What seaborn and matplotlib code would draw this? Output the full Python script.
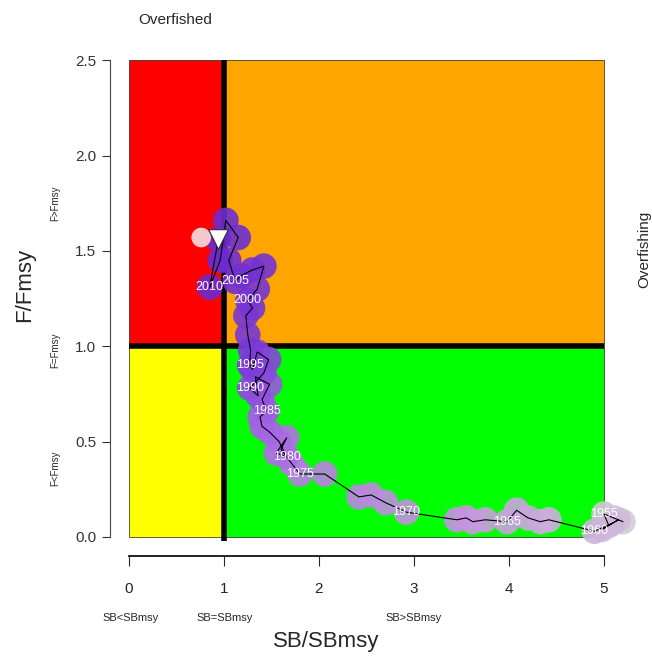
import numpy as np
import pandas as pd
import matplotlib
matplotlib.use("Agg")
import matplotlib.pyplot as plt
import seaborn as sns
from matplotlib.colors import LinearSegmentedColormap
from matplotlib.patches import Rectangle

# --- DATA ---
years = list(range(1953, 2012))
sb_ratio = [5.20, 5.10, 5.00, 5.05, 5.15, 4.98, 5.08, 4.90,
            4.42, 4.33, 4.20, 4.08, 3.98, 3.75, 3.62, 3.55, 3.45, 2.92,
            2.70, 2.55, 2.42, 2.06, 1.80, 1.72, 1.60, 1.66, 1.55, 1.66,
            1.58, 1.48, 1.40, 1.38, 1.45, 1.40, 1.48, 1.33, 1.36, 1.27,
            1.42, 1.47, 1.35, 1.30, 1.27, 1.28, 1.25, 1.23, 1.30, 1.25,
            1.35, 1.42, 1.30, 1.18, 1.12, 1.05, 1.15, 1.02, 0.96, 0.85,
            0.94]
f_ratio = [0.08, 0.10, 0.12, 0.06, 0.09, 0.04, 0.07, 0.03,
           0.09, 0.08, 0.10, 0.14, 0.08, 0.09, 0.08, 0.10, 0.09, 0.13,
           0.18, 0.22, 0.21, 0.33, 0.33, 0.38, 0.46, 0.52, 0.44, 0.42,
           0.50, 0.55, 0.58, 0.63, 0.66, 0.72, 0.80, 0.84, 0.74, 0.78,
           0.86, 0.93, 0.97, 0.88, 0.90, 0.98, 1.06, 1.16, 1.20, 1.24,
           1.30, 1.42, 1.40, 1.37, 1.34, 1.45, 1.57, 1.66, 1.45, 1.31,
           1.56]
label_years = [1955, 1960, 1965, 1970, 1975, 1980, 1985, 1990, 1995, 2000, 2005, 2010]

# final markers
last_sb, last_f = 0.94, 1.56
alt_sb, alt_f = 0.76, 1.57

df = pd.DataFrame({"year": years, "sb": sb_ratio, "f": f_ratio})

# --- PLOT ---
sns.set_style("ticks")
plt.rcParams['font.family'] = ['Liberation Sans', 'DejaVu Sans']

fig = plt.figure(figsize=(6.52, 6.56), dpi=100)
ax = fig.add_axes([0.1687, 0.1524, 0.7868, 0.785])

# quadrants
quads = [(0, 1, 1, 1.5, '#ff0000'), (1, 1, 4, 1.5, '#ffa500'),
         (0, 0, 1, 1, '#ffff00'), (1, 0, 4, 1, '#00ff00')]
for x0, y0, w, h, c in quads:
    ax.add_patch(Rectangle((x0, y0), w, h, facecolor=c, edgecolor='#202020', lw=0.5, zorder=1))
ax.plot([1, 1], [-0.02, 2.5], color='black', lw=4, zorder=2, solid_capstyle='butt')
ax.plot([0, 5], [1, 1], color='black', lw=4, zorder=2, solid_capstyle='butt')

cmap = LinearSegmentedColormap.from_list('traj', ['#d4ccd8', '#c898e0', '#a868e6', '#7a38d6', '#6a2ad0'])
norm_years = (df['year'] - df['year'].min()) / (df['year'].max() - df['year'].min())
ax.scatter(df['sb'], df['f'], s=340, c=cmap(norm_years.values), alpha=0.9,
           edgecolors='none', zorder=3, clip_on=False)
sns.lineplot(data=df, x='sb', y='f', sort=False, color='black', lw=0.8, ax=ax,
             zorder=4, estimator=None)
ax.lines[-1].set_clip_on(False)

for _, r in df[df['year'].isin(label_years)].iterrows():
    ax.text(r['sb'], r['f'], str(int(r['year'])), color='white', fontsize=9,
            ha='center', va='center', zorder=5)

ax.scatter([alt_sb], [alt_f], s=200, color='#f6c8cc', edgecolors='none', zorder=6)
ax.scatter([last_sb], [last_f], s=200, marker='v', color='white', edgecolors='#303030',
           linewidths=0.8, zorder=6)

ax.set_xlim(-0.2, 5.2)
ax.set_ylim(-0.1, 2.6)
ax.set_xticks([0, 1, 2, 3, 4, 5])
ax.set_yticks([0.0, 0.5, 1.0, 1.5, 2.0, 2.5])
ax.set_yticklabels(['0.0', '0.5', '1.0', '1.5', '2.0', '2.5'])
for s in ['top', 'right']:
    ax.spines[s].set_visible(False)
ax.spines['left'].set_bounds(0, 2.5)
ax.spines['bottom'].set_bounds(0, 5)
ax.spines['left'].set_color('#444444')
ax.spines['bottom'].set_color('#111111')
ax.spines['bottom'].set_linewidth(1.3)
ax.tick_params(axis='x', length=7, labelsize=11, pad=12)
ax.tick_params(axis='y', length=6, labelsize=11, pad=4, colors='#333333')
ax.set_xlabel('')
ax.set_ylabel('')

fig.text(0.5, 0.022, 'SB/SBmsy', fontsize=16, ha='center', va='center')
fig.text(0.038, 0.565, 'F/Fmsy', fontsize=16, ha='center', va='center', rotation=90)
fig.text(0.268, 0.970, 'Overfished', fontsize=11, ha='center', va='center')
fig.text(0.988, 0.62, 'Overfishing', fontsize=11, ha='center', va='center', rotation=90)

for y, t in [(203, 'F>Fmsy'), (350, 'F=Fmsy'), (468, 'F<Fmsy')]:
    fig.text(0.085, 1 - y / 656, t, fontsize=7, ha='center', va='center', rotation=90)
for x, t in [(131, 'SB<SBmsy'), (225, 'SB=SBmsy'), (414, 'SB>SBmsy')]:
    fig.text(x / 652, 1 - 618 / 656, t, fontsize=8, ha='center', va='center')

fig.savefig('out.png', dpi=100)
